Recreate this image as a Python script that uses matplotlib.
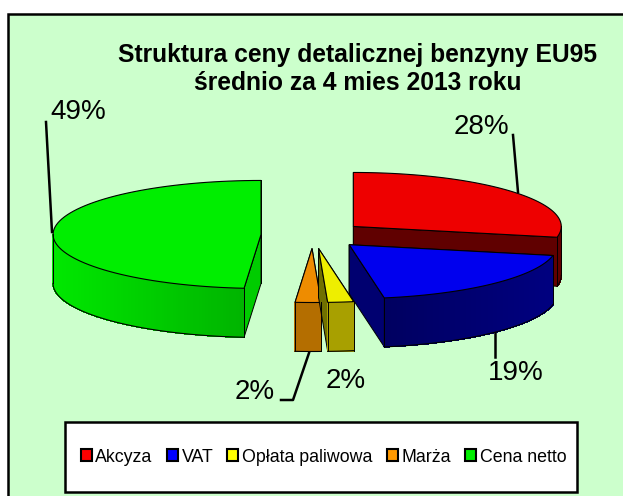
import numpy as np
import matplotlib
matplotlib.use('Agg')
import matplotlib.pyplot as plt
from matplotlib.colors import to_rgb
from matplotlib.patches import Polygon, Rectangle, Patch

plt.rcParams['font.family'] = ['Liberation Sans', 'DejaVu Sans']

# data
categories = ['Akcyza', 'VAT', 'Opłata paliwowa', 'Marża', 'Cena netto']
values = [28.2, 19.1, 2.0, 2.0, 48.7]
value_labels = ['28%', '19%', '2%', '2%', '49%']

title_string = 'Struktura ceny detalicznej benzyny EU95\nśrednio za 4 mies 2013 roku'

# colours: top, radial wall, outer wall left end, outer wall right end
top_colors = ['#ee0000', '#0000ee', '#eeee00', '#ee8c00', '#00ee00']
wall_colors = ['#600000', '#000070', '#707000', '#8a5400', '#00cc00']
outer_left = ['#600000', '#000060', '#a8a000', '#b46e00', '#00e800']
outer_right = ['#600000', '#000080', '#a8a000', '#b46e00', '#00b400']

# pie geometry, in pixels
cx, cy = 313, 235
rx, ry = 208, 54
depth = 49
explode = 0.25


def edge_point(x0, y0, angle):
    return x0 + rx * np.sin(angle), y0 - ry * np.cos(angle)


fig = plt.figure(figsize=(6.23, 4.96), dpi=100, facecolor='white')
ax = fig.add_axes([0, 0, 1, 1])
ax.set_xlim(0, 623)
ax.set_ylim(496, 0)
ax.axis('off')

# chart area, right and bottom edges run off the picture
ax.add_patch(Rectangle((8, 14), 700, 500, facecolor='#ccffcc', edgecolor='black', lw=1.8))

# slices go clockwise from the top
fractions = np.array(values) / sum(values)
ends = np.cumsum(fractions) * 2 * np.pi
starts = ends - fractions * 2 * np.pi

for i in [4, 0, 3, 2, 1]:
    a0, a1 = starts[i], ends[i]
    mid = (a0 + a1) / 2
    x0 = cx + explode * rx * np.sin(mid)
    y0 = cy - explode * ry * np.cos(mid)

    # radial walls
    for a in [a0, a1]:
        px, py = edge_point(x0, y0, a)
        ax.add_patch(Polygon([(x0, y0), (px, py), (px, py + depth), (x0, y0 + depth)],
                             facecolor=wall_colors[i], edgecolor='black', lw=0.7))

    # outer wall, only the part that faces the viewer
    w0, w1 = max(a0, np.pi / 2), min(a1, 3 * np.pi / 2)
    if w1 > w0:
        steps = max(int((w1 - w0) / 0.015), 2)
        grid = np.linspace(w0, w1, steps + 1)
        gx, gy = edge_point(x0, y0, grid)
        c_left = np.array(to_rgb(outer_left[i]))
        c_right = np.array(to_rgb(outer_right[i]))
        for s in range(steps):
            t = (gx[s] - gx.min()) / (gx.max() - gx.min())
            col = c_left + (c_right - c_left) * t
            ax.add_patch(Polygon([(gx[s], gy[s]), (gx[s + 1], gy[s + 1]),
                                  (gx[s + 1], gy[s + 1] + depth), (gx[s], gy[s] + depth)],
                                 facecolor=col, edgecolor=col, lw=0.5, antialiased=False))
        ax.plot(gx, gy + depth, color='black', lw=0.8)
        for k in [0, -1]:
            ax.plot([gx[k], gx[k]], [gy[k], gy[k] + depth], color='black', lw=0.7)

    # top
    grid = np.linspace(a0, a1, 80)
    gx, gy = edge_point(x0, y0, grid)
    pts = [(x0, y0)] + list(zip(gx, gy))
    ax.add_patch(Polygon(pts, facecolor=top_colors[i], edgecolor='black', lw=0.8))

# leader lines
ax.plot([46, 52], [122, 232], color='black', lw=1.8)
ax.plot([513, 518], [135, 192], color='black', lw=1.8)
ax.plot([495, 495], [333, 357], color='black', lw=1.8)
ax.plot([309, 293, 281], [353, 400, 400], color='black', lw=1.8)

# value labels
label_pos = [(481, 127), (516, 373), (346, 381), (255, 392), (78, 112)]
for (lx, ly), lab in zip(label_pos, value_labels):
    ax.text(lx, ly, lab, ha='center', va='center', fontsize=20, color='black')

ax.text(357.5, 69, title_string, ha='center', va='center', fontsize=17.75,
        fontweight='bold', linespacing=1.16)

# legend
ax.add_patch(Rectangle((65, 422), 512, 70, facecolor='white', edgecolor='black', lw=1.8, zorder=3))
handles = [Patch(facecolor=c, edgecolor='black', lw=1.5)
           for c in ['#ff0000', '#0000ff', '#ffff00', '#ff9900', '#00ee00']]
ax.legend(handles, categories, ncol=5, loc='center', bbox_to_anchor=(323.5 / 623, 1 - 457 / 496),
          frameon=False, fontsize=12.8, handlelength=0.62, handleheight=0.62,
          handletextpad=0.2, columnspacing=0.8, borderpad=0).set_zorder(4)

fig.savefig('out.png', dpi=100)
